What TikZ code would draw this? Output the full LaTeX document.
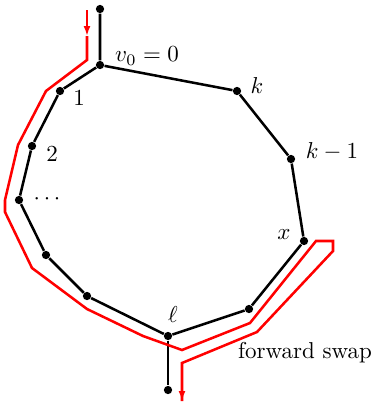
\documentclass[tikz,border=0pt]{standalone}
\usetikzlibrary{arrows.meta}
\begin{document}
\begin{tikzpicture}[x=0.435pt,y=-0.435pt,
  dot/.style={circle,fill=black,inner sep=0pt,minimum size=3.6pt},
  edge/.style={line width=1.1pt,black},
  redpath/.style={red,line width=1.1pt},
  lbl/.style={inner sep=0pt}]
\useasboundingbox (0,0) rectangle (377,403);
% vertices
\node[dot] (top) at (100,9) {};
\node[dot] (v0) at (100,65) {};
\node[dot] (n1) at (60,91) {};
\node[dot] (n2) at (32,146) {};
\node[dot] (nd) at (19,200) {};
\node[dot] (na) at (46,255) {};
\node[dot] (nb) at (87,296) {};
\node[dot] (nl) at (168,336) {};
\node[dot] (nc) at (249,309) {};
\node[dot] (nx) at (304,241) {};
\node[dot] (nk1) at (291,159) {};
\node[dot] (nk) at (237,91) {};
\node[dot] (bot) at (168,390) {};
% edges
\draw[edge] (top) -- (v0) -- (n1) -- (n2) -- (nd) -- (na) -- (nb) -- (nl) -- (nc) -- (nx) -- (nk1) -- (nk) -- (v0);
\draw[edge] (nl) -- (bot);
% labels
\node[lbl] (lv0) at (147,56) {$v_0=0$};
\node[lbl] (l1) at (79,98) {$1$};
\node[lbl] (l2) at (52,154) {$2$};
\node[lbl,anchor=base] (ld) at (47,204) {$\cdots$};
\node[lbl] (lk) at (257,86) {$k$};
\node[lbl] (lk1) at (332,151) {$k-1$};
\node[lbl] (lx) at (284,235) {$x$};
\node[lbl] (ll) at (173,315) {$\ell$};
\node[lbl] (lfs) at (305,353) {forward swap};
% red path
\coordinate (r0) at (87,10);
\coordinate (r1) at (87,36);
\coordinate (r2) at (87,60);
\coordinate (r3) at (46,91);
\coordinate (r4) at (18,145);
\coordinate (r5) at (5,200);
\coordinate (r6) at (5,212);
\coordinate (r7) at (32,268);
\coordinate (r8) at (87,309);
\coordinate (r9) at (143,336);
\coordinate (r10) at (182,350);
\coordinate (r11) at (250,323);
\coordinate (r12) at (316,241);
\coordinate (r13) at (333,241);
\coordinate (r14) at (333,251);
\coordinate (r15) at (257,332);
\coordinate (r16) at (182,363);
\coordinate (r17) at (182,401);
\draw[redpath,-{Latex[length=4.3pt,width=3pt]}] (r0) -- (r1);
\draw[redpath] (r1) -- (r2) -- (r3) -- (r4) -- (r5) -- (r6) -- (r7) -- (r8) -- (r9) -- (r10) -- (r11) -- (r12) -- (r13) -- (r14) -- (r15) -- (r16) -- (r17);
\draw[redpath,-{Latex[length=4.3pt,width=3pt]}] (r16) -- (r17);
\end{tikzpicture}
\end{document}
